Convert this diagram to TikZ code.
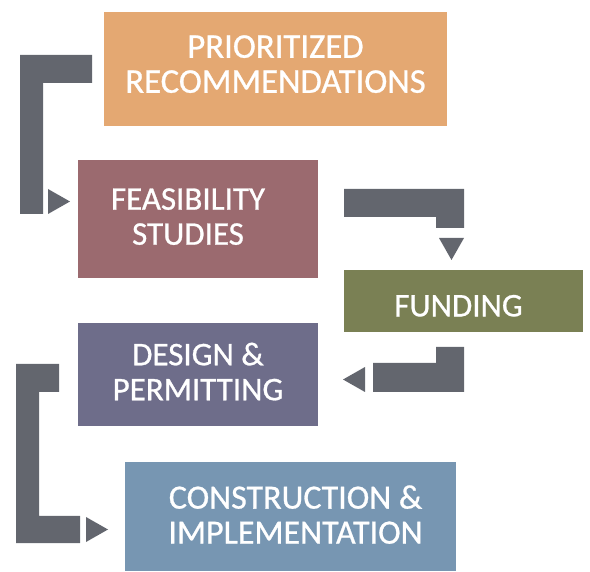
\documentclass[tikz,border=0pt]{standalone}
\usepackage{fontspec}
\setmainfont{Carlito}[FakeBold=0.8]
\definecolor{eeaaoo}{RGB}{228,168,114}
\definecolor{qqbbcc}{RGB}{155,106,111}
\definecolor{qqeebb}{RGB}{122,128,84}
\definecolor{qqccff}{RGB}{110,109,138}
\definecolor{qqzzff}{RGB}{119,150,178}
\definecolor{ggqqgg}{RGB}{99,102,110}
\begin{document}
\begin{tikzpicture}[x=1pt,y=-1pt,node font=\fontsize{33}{35}\selectfont,
	box/.style={text=white,align=center,inner sep=0pt}]
			\useasboundingbox (0,0) rectangle (590,572);
			\fill [color=ggqqgg] (20,55)-- (92,55)-- (92,83)-- (43,83)-- (43,214)-- (20,214)-- cycle;
			\fill [color=ggqqgg] (48,189)-- (70,201.5)-- (48,214)-- cycle;
			\fill [color=ggqqgg] (344,189)-- (464,189)-- (464,228)-- (436,228)-- (436,217)-- (344,217)-- cycle;
			\fill [color=ggqqgg] (439,238)-- (464,238)-- (451.5,260)-- cycle;
			\fill [color=ggqqgg] (436,347)-- (464,347)-- (464,392)-- (373,392)-- (373,363)-- (436,363)-- cycle;
			\fill [color=ggqqgg] (365,367)-- (365,392)-- (343,379.5)-- cycle;
			\fill [color=ggqqgg] (16,364)-- (59,364)-- (59,392)-- (39,392)-- (39,516)-- (80,516)-- (80,543)-- (16,543)-- cycle;
			\fill [color=ggqqgg] (86,517)-- (108,529.5)-- (86,542)-- cycle;
			\node [box,fill=eeaaoo,minimum width=343pt,minimum height=114pt,text depth=10pt,
				node font=\fontsize{34.7}{35}\selectfont] (prior) at (275.5,69) {PRIORITIZED\\RECOMMENDATIONS};
			\node [box,fill=qqbbcc,minimum width=240pt,minimum height=118pt,text depth=5pt] (feas) at (198,219)
				{FEASIBILITY\hspace*{20pt}\\STUDIES\hspace*{20pt}};
			\node [box,fill=qqeebb,minimum width=239pt,minimum height=62pt,text height=31pt] (fund) at (463.5,301)
				{FUNDING\hspace*{10pt}};
			\node [box,fill=qqccff,minimum width=240pt,minimum height=103pt,text depth=6pt] (design) at (198,374.5)
				{DESIGN \&\\PERMITTING};
			\node [box,fill=qqzzff,minimum width=331pt,minimum height=109pt,text depth=4pt,
				node font=\fontsize{34}{35}\selectfont] (constr) at (290.5,516.5)
				{\hspace*{10pt}CONSTRUCTION \&\\\hspace*{10pt}IMPLEMENTATION};
		\end{tikzpicture}
\end{document}
